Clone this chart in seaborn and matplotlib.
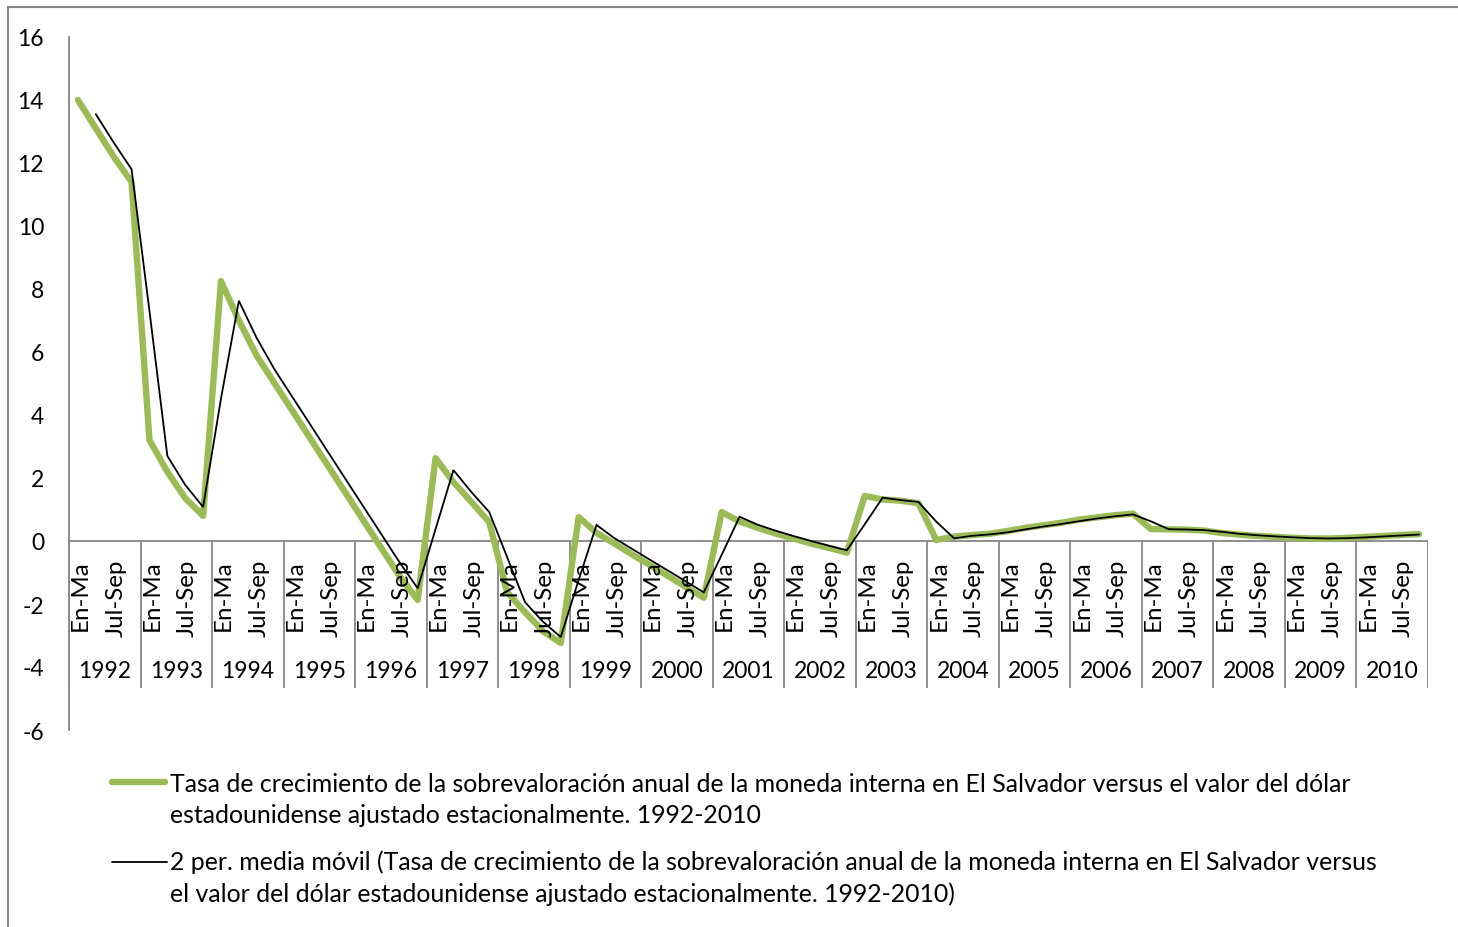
import numpy as np
import pandas as pd
import matplotlib
matplotlib.use("Agg")
import matplotlib.pyplot as plt
from matplotlib.lines import Line2D
import seaborn as sns

# Quarterly series, 1992-2010
years = [str(y) for y in range(1992, 2011)]
quarters = ["En-Ma", "Abr-Jun", "Jul-Sep", "Oct-Dic"]
shown_quarters = ["En-Ma", "Jul-Sep"]

tasa = [
    14.0, 13.1, 12.2, 11.4,      # 1992
    3.2, 2.2, 1.36, 0.8,         # 1993
    8.25, 7.0, 5.88, 5.0,        # 1994
    4.13, 3.25, 2.37, 1.5,       # 1995
    0.62, -0.25, -1.13, -1.87,   # 1996
    2.63, 1.87, 1.24, 0.6,       # 1997
    -1.62, -2.26, -2.86, -3.24,  # 1998
    0.76, 0.26, -0.08, -0.43,    # 1999
    -0.77, -1.11, -1.46, -1.8,   # 2000
    0.92, 0.62, 0.42, 0.24,      # 2001
    0.08, -0.08, -0.22, -0.37,   # 2002
    1.43, 1.32, 1.28, 1.2,       # 2003
    0.03, 0.14, 0.19, 0.23,      # 2004
    0.32, 0.42, 0.5, 0.58,       # 2005
    0.68, 0.75, 0.82, 0.87,      # 2006
    0.38, 0.37, 0.36, 0.33,      # 2007
    0.25, 0.2, 0.16, 0.13,       # 2008
    0.1, 0.08, 0.08, 0.1,        # 2009
    0.13, 0.16, 0.19, 0.22,      # 2010
]

label_tasa = ("Tasa de crecimiento de la sobrevaloración anual de la moneda interna en El Salvador versus el valor del dólar",
              "estadounidense ajustado estacionalmente. 1992-2010")
label_media = ("2 per. media móvil (Tasa de crecimiento de la sobrevaloración anual de la moneda interna en El Salvador versus",
               "el valor del dólar estadounidense ajustado estacionalmente. 1992-2010)")

GREEN = "#9BBB59"
GRID_GRAY = "#868686"
FONT = 17.9
NUM_FONT = 16.5

sns.set_theme(style="white")
plt.rcParams["font.family"] = ["Lato", "DejaVu Sans"]
plt.rcParams["axes.unicode_minus"] = False

n = len(tasa)
df = pd.DataFrame({
    "pos": np.arange(n) + 0.5,
    "tasa": tasa,
})
df["media"] = df["tasa"].rolling(2).mean()

W, H = 1458, 928
fig = plt.figure(figsize=(W / 100, H / 100), dpi=100)
ax = fig.add_axes([69 / W, 1 - 731 / H, (1428 - 69) / W, (731 - 38) / H])

sns.lineplot(data=df, x="pos", y="tasa", color=GREEN, lw=4.6, ax=ax,
             solid_capstyle="round", solid_joinstyle="round", zorder=3)
sns.lineplot(data=df.dropna(), x="pos", y="media", color="black", lw=1.3, ax=ax,
             solid_joinstyle="miter", zorder=4)

ax.set_xlim(0, n)
ax.set_ylim(-6, 16)
ax.set_yticks(np.arange(-6, 17, 2))
ax.set_xticks([])
ax.set_xlabel("")
ax.set_ylabel("")
ax.tick_params(axis="y", length=0, pad=18, labelsize=NUM_FONT, labelcolor="black")
for side in ("top", "right", "bottom"):
    ax.spines[side].set_visible(False)
ax.spines["left"].set_color(GRID_GRAY)
ax.spines["left"].set_linewidth(1.3)

# category axis crossing at zero, with year separators
ax.axhline(0, color=GRID_GRAY, lw=1.3, zorder=2)
ax.vlines(np.arange(0, n + 1, 4), -4.67, 0, color=GRID_GRAY, lw=1.3, zorder=2)

for i, yr in enumerate(years):
    for q, qname in enumerate(quarters):
        if qname in shown_quarters:
            ax.annotate(qname, xy=(4 * i + q + 0.5, 0), xytext=(2.5, -18),
                        textcoords="offset pixels", rotation=90,
                        ha="center", va="top", fontsize=17.3, color="black")
    ax.annotate(yr, xy=(4 * i + 2, 0), xytext=(0, -129),
                textcoords="offset pixels", ha="center", va="center",
                fontsize=NUM_FONT, color="black")

# legend below the plot
def fx(px):
    return px / W

def fy(py):
    return 1 - py / H

fig.add_artist(Line2D([fx(112), fx(165)], [fy(783), fy(783)], color=GREEN, lw=4.6,
                      solid_capstyle="round", transform=fig.transFigure))
fig.add_artist(Line2D([fx(112), fx(167)], [fy(863), fy(863)], color="black", lw=1.3,
                      transform=fig.transFigure))
for text, base in zip(label_tasa + label_media, (792, 823, 870, 902)):
    fig.text(fx(170), fy(base), text, ha="left", va="baseline", fontsize=FONT, color="black")

# outer chart frame
fig.add_artist(Line2D([fx(8), 1], [fy(8), fy(8)], color="#878787", lw=1.5, transform=fig.transFigure))
fig.add_artist(Line2D([fx(8), fx(8)], [fy(8), 0], color="#878787", lw=1.5, transform=fig.transFigure))

fig.savefig("out.png", dpi=100, facecolor="white")
